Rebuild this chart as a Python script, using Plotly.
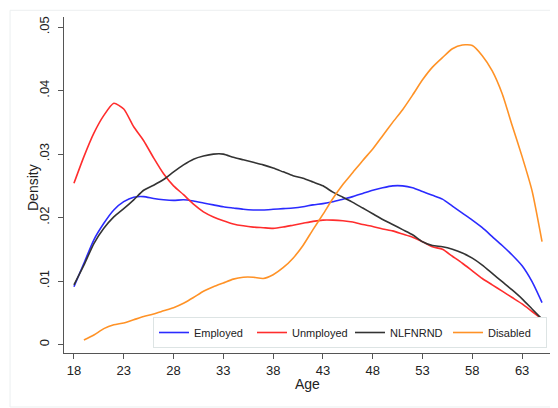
import plotly.graph_objects as go

ages = list(range(18, 66))
ages_disabled = list(range(19, 66))

employed = [0.0091, 0.0128, 0.0165, 0.0191, 0.0212, 0.0225, 0.0232, 0.0233, 0.0230, 0.0228,
            0.0227, 0.0228, 0.0226, 0.0223, 0.0220, 0.0217, 0.0215, 0.0213, 0.0212, 0.0212,
            0.0213, 0.0214, 0.0215, 0.0217, 0.0220, 0.0222, 0.0225, 0.0229, 0.0233, 0.0238,
            0.0243, 0.0247, 0.0250, 0.0250, 0.0247, 0.0241, 0.0235, 0.0229, 0.0218, 0.0207,
            0.0196, 0.0184, 0.0170, 0.0156, 0.0141, 0.0124, 0.0099, 0.0066]

unemployed = [0.0254, 0.0296, 0.0333, 0.0361, 0.0380, 0.0371, 0.0343, 0.0321, 0.0294, 0.0269,
              0.0250, 0.0236, 0.0221, 0.0209, 0.0201, 0.0195, 0.0190, 0.0187, 0.0185, 0.0184,
              0.0183, 0.0185, 0.0188, 0.0191, 0.0194, 0.0196, 0.0196, 0.0195, 0.0193, 0.0189,
              0.0186, 0.0182, 0.0179, 0.0174, 0.0169, 0.0162, 0.0154, 0.0150, 0.0139, 0.0128,
              0.0116, 0.0104, 0.0094, 0.0084, 0.0074, 0.0064, 0.0052, 0.0040]

nlfnrnd = [0.0094, 0.0125, 0.0159, 0.0183, 0.0201, 0.0214, 0.0228, 0.0243, 0.0251, 0.0260,
           0.0272, 0.0283, 0.0292, 0.0297, 0.0300, 0.0300, 0.0295, 0.0291, 0.0287, 0.0283,
           0.0278, 0.0272, 0.0266, 0.0262, 0.0256, 0.0250, 0.0240, 0.0232, 0.0224, 0.0215,
           0.0206, 0.0197, 0.0189, 0.0181, 0.0173, 0.0162, 0.0156, 0.0154, 0.0150, 0.0144,
           0.0136, 0.0125, 0.0112, 0.0099, 0.0086, 0.0072, 0.0056, 0.0040]

disabled = [0.0007, 0.0015, 0.0025, 0.0031, 0.0034, 0.0039, 0.0044, 0.0048, 0.0053, 0.0058,
            0.0065, 0.0074, 0.0084, 0.0091, 0.0097, 0.0103, 0.0106, 0.0106, 0.0104, 0.0110,
            0.0121, 0.0136, 0.0156, 0.0181, 0.0205, 0.0230, 0.0252, 0.0271, 0.0290, 0.0308,
            0.0329, 0.0350, 0.0370, 0.0393, 0.0417, 0.0437, 0.0452, 0.0466, 0.0472, 0.0471,
            0.0455, 0.0431, 0.0395, 0.0345, 0.0296, 0.0242, 0.0162]

x_ticks = [18, 23, 28, 33, 38, 43, 48, 53, 58, 63]
y_ticks = [0, 0.01, 0.02, 0.03, 0.04, 0.05]
y_tick_labels = ["0", ".01", ".02", ".03", ".04", ".05"]

series = [
    ("Employed", ages, employed, "#2b2bff"),
    ("Unmployed", ages, unemployed, "#ff2d2d"),
    ("NLFNRND", ages, nlfnrnd, "#333333"),
    ("Disabled", ages_disabled, disabled, "#ff9226"),
]

fig = go.Figure()
for name, xs, ys, color in series:
    fig.add_trace(go.Scatter(x=xs, y=ys, mode="lines", name=name,
                             line=dict(color=color, width=1.6, shape="spline", smoothing=0.6)))

font = "Liberation Sans, Arial, Helvetica, sans-serif"
fig.update_layout(
    width=550, height=400,
    margin=dict(l=56, r=8, t=9, b=55, autoexpand=False),
    paper_bgcolor="white", plot_bgcolor="white",
    font=dict(family=font, size=13, color="#222222"),
    showlegend=True,
    legend=dict(orientation="h", xref="container", yref="container",
                x=0.2636, xanchor="left", y=0.15, yanchor="bottom",
                bgcolor="white", bordercolor="#dde4e4", borderwidth=1,
                font=dict(size=11, color="#222222"),
                entrywidth=53, entrywidthmode="pixels", itemwidth=30),
    xaxis=dict(range=[17.0, 65.8], tickvals=x_ticks, showgrid=False, zeroline=False,
               showline=True, linecolor="#555555", linewidth=1, automargin=False,
               ticks="outside", ticklen=5, tickcolor="#555555",
               tickfont=dict(size=13)),
    yaxis=dict(range=[-0.00134, 0.0516], tickvals=y_ticks, ticktext=y_tick_labels,
               showgrid=False, zeroline=False, showline=True, linecolor="#555555", linewidth=1,
               automargin=False, ticklabelstandoff=4,
               ticks="outside", ticklen=5, tickcolor="#555555", tickangle=-90,
               tickfont=dict(size=13)),
)
fig.add_annotation(text="Density", xref="paper", yref="paper", x=-0.0638, y=0.494,
                   xanchor="center", yanchor="middle", textangle=-90, showarrow=False,
                   font=dict(size=14, color="#222222"))
fig.add_annotation(text="Age", xref="paper", yref="paper", x=0.502, y=-0.0923,
                   xanchor="center", yanchor="middle", showarrow=False,
                   font=dict(size=14, color="#222222"))
fig.add_shape(type="rect", xref="paper", yref="paper",
              x0=-0.111, x1=1.014, y0=-0.1607, y1=1.02,
              line=dict(color="#eceff0", width=1), fillcolor="rgba(0,0,0,0)", layer="below")

fig.write_html("out.html")
